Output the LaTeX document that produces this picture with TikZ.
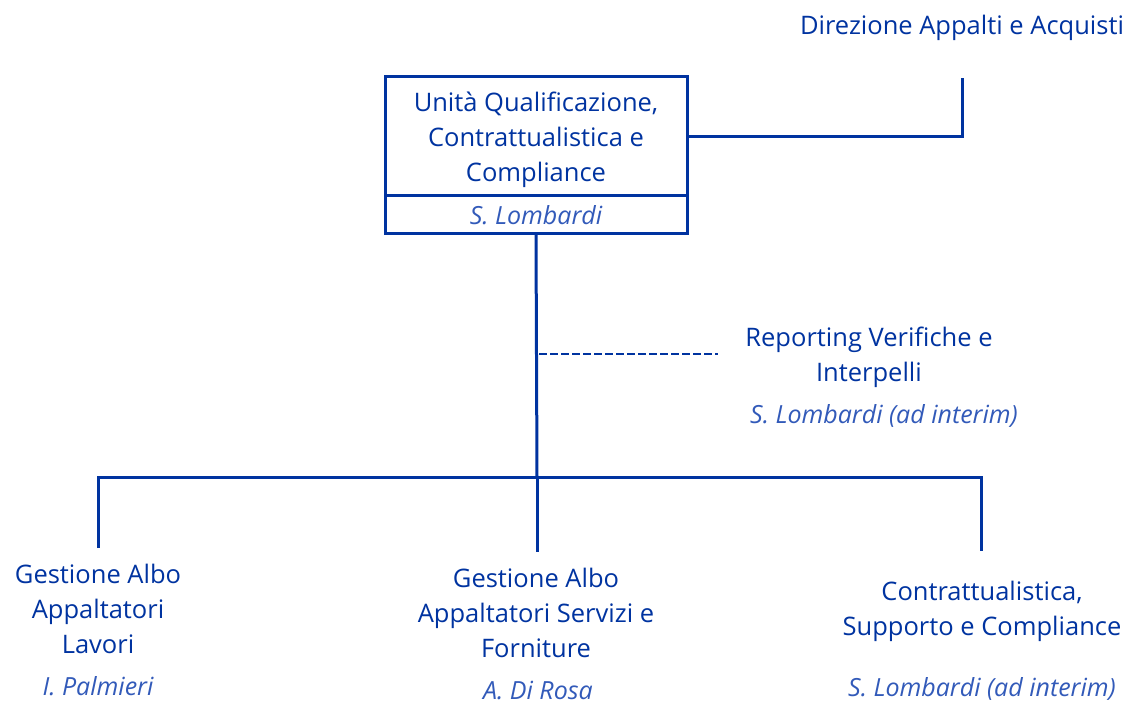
\documentclass[tikz,border=0pt]{standalone}
\usepackage{fontspec}
\setmainfont{Open Sans}
\usetikzlibrary{positioning}
\definecolor{orgblu}{RGB}{0,51,160}
\definecolor{nomeblu}{RGB}{50,90,185}
\tikzset{
  unita/.style={draw=orgblu, line width=3pt, text=orgblu, align=center,
    minimum width=302pt, inner sep=0pt, outer sep=0pt},
  ufficio/.style={text=orgblu, align=center, font=\fontsize{25.5}{35}\selectfont},
  nome/.style={text=nomeblu, font=\fontsize{25}{30}\selectfont\itshape},
  linea/.style={orgblu, line width=3pt},
}
\begin{document}
\begin{tikzpicture}[x=1pt, y=-1pt]
    \useasboundingbox (0,0) rectangle (1128,703);
    % unita' centrale
    \node[unita, ufficio, minimum height=119pt, anchor=north west, text depth=0pt] (unita) at (385,77)
        {Unità Qualificazione,\\Contrattualistica e\\Compliance};
    \node[unita, nome, minimum height=38pt, anchor=north] (unitanome) at (unita.south) {S. Lombardi};
    \node[ufficio] (direzione) at (962,28) {Direzione Appalti e Acquisti};
    \coordinate (dirpunto) at (962,78);
    \draw[linea] (unita.east) -| (dirpunto);
    % staff
    \node[ufficio] (reporting) at (869,357) {Reporting Verifiche e\\Interpelli};
    \node[nome] (reportingnome) at (884,416) {S. Lombardi (ad interim)};
    \draw[linea, line width=2.4pt, dash pattern=on 8pt off 3pt]
        ([xshift=3pt]unitanome.south |- 0,354) -- (718,354);
    % uffici
    \node[ufficio] (lavori) at (98,609) {Gestione Albo\\Appaltatori\\Lavori};
    \node[nome] (lavorinome) at (98,686) {I. Palmieri};
    \node[ufficio] (servizi) at (536,613) {Gestione Albo\\Appaltatori Servizi e\\Forniture};
    \node[nome] (servizinome) at (538,690) {A. Di Rosa};
    \node[ufficio] (contratti) at (982,611) {Contrattualistica,\\Supporto e Compliance};
    \node[nome] (contrattinome) at (982,689) {S. Lombardi (ad interim)};
    \coordinate (bus) at (537,477);
    \coordinate (lavoripunto) at (98,548);
    \coordinate (servizipunto) at (537,552);
    \coordinate (contrattipunto) at (981,551);
    \draw[linea] (unitanome.south) -- (bus);
    \draw[linea] (lavoripunto) |- (bus) -| (contrattipunto);
    \draw[linea] (bus) -- (servizipunto);
\end{tikzpicture}
\end{document}
